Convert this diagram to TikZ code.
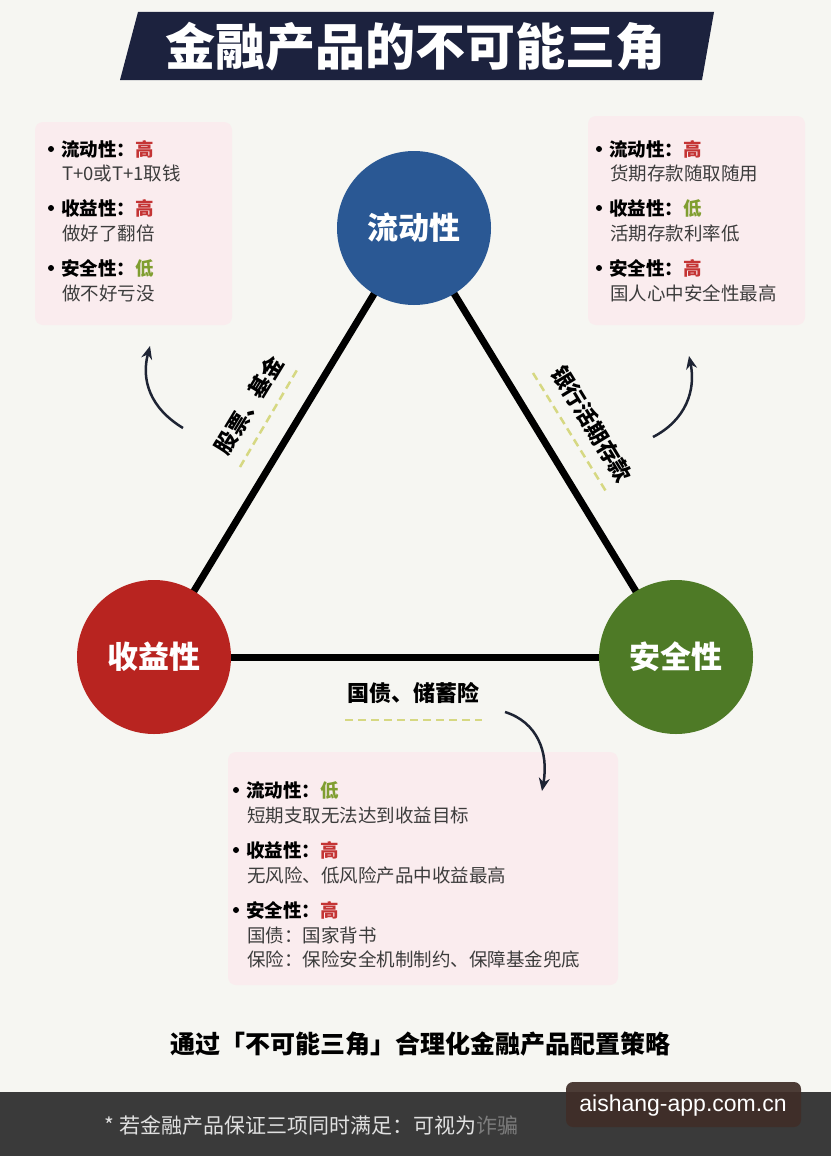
\documentclass[tikz,border=0pt]{standalone}
\usepackage{fontspec}
\setmainfont{Noto Sans CJK SC}
\newfontfamily\latinsans{Liberation Sans}
\usetikzlibrary{arrows.meta}
\definecolor{bg}{RGB}{246,246,242}
\definecolor{navy}{RGB}{28,34,62}
\definecolor{cblue}{RGB}{42,88,148}
\definecolor{cred}{RGB}{184,36,32}
\definecolor{cgreen}{RGB}{78,122,38}
\definecolor{boxpink}{RGB}{250,236,238}
\definecolor{hi}{RGB}{196,52,52}
\definecolor{lo}{RGB}{128,158,48}
\definecolor{sub}{RGB}{60,60,60}
\definecolor{dashc}{RGB}{214,216,130}
\definecolor{arr}{RGB}{30,36,52}
\definecolor{band}{RGB}{58,58,58}
\definecolor{wm}{RGB}{64,46,40}
\tikzset{
  circ/.style={circle, minimum size=154pt, inner sep=0pt, text=white, font=\bfseries\fontsize{31}{31}\selectfont},
  edge/.style={line width=7pt, black},
  head/.style={anchor=west, inner sep=0pt, font=\bfseries\fontsize{18.5}{18.5}\selectfont},
  subl/.style={anchor=west, inner sep=0pt, text=sub, font=\fontsize{18.5}{18.5}\selectfont},
  bul/.style={circle, fill=black, inner sep=0pt, minimum size=6pt},
  elabel/.style={inner sep=0pt, font=\bfseries\fontsize{22}{22}\selectfont},
  dashl/.style={line width=2.5pt, dashc, dash pattern=on 8pt off 5pt},
  carrow/.style={line width=2.5pt, arr, -{Stealth[length=13pt,width=11pt]}},
  pinkbox/.style={fill=boxpink, rounded corners=8pt, draw=none}
}
\begin{document}
\begin{tikzpicture}[x=1pt,y=-1pt]
\fill[bg] (0,0) rectangle (831,1156);
\useasboundingbox (0,0) rectangle (831,1156);
% title
\fill[navy] (138,12) -- (714,12) -- (702,80) -- (120,80) -- cycle;
\node[text=white, font=\bfseries\fontsize{50}{50}\selectfont] (title) at (415,47) {金融产品的不可能三角};
% info boxes
\fill[pinkbox] (35,122) rectangle (232,325);
\fill[pinkbox] (588,116) rectangle (805,325);
\fill[pinkbox] (228,752) rectangle (618,985);
% triangle
\coordinate (T) at (414,228);
\coordinate (L) at (154,657);
\coordinate (R) at (676,657);
\draw[edge] (T) -- (L);
\draw[edge] (T) -- (R);
\draw[edge] (L) -- (R);
\node[circ, fill=cblue] (liu) at (T) {流动性};
\node[circ, fill=cred] (shou) at (L) {收益性};
\node[circ, fill=cgreen] (an) at (R) {安全性};
% edge labels
\node[elabel, rotate=58.7] (lab1) at (249,405) {股票、基金};
\coordinate (d1a) at (240,467);
\coordinate (d1b) at (297,370);
\draw[dashl] (d1a) -- (d1b);
\node[elabel, rotate=-58.6] (lab2) at (592,424) {银行活期存款};
\coordinate (d2a) at (533,373);
\coordinate (d2b) at (607,493);
\draw[dashl] (d2a) -- (d2b);
\node[elabel] (lab3) at (413,693) {国债、储蓄险};
\coordinate (d3a) at (345,720);
\coordinate (d3b) at (482,720);
\draw[dashl] (d3a) -- (d3b);
% curved arrows
\coordinate (a1s) at (183,428); \coordinate (a1e) at (150,346);
\draw[carrow] (a1s) .. controls (150,408) and (141,380) .. (a1e);
\coordinate (a2s) at (653,437); \coordinate (a2e) at (689,356);
\draw[carrow] (a2s) .. controls (686,420) and (696,390) .. (a2e);
\coordinate (a3s) at (505,712); \coordinate (a3e) at (542,791);
\draw[carrow] (a3s) .. controls (537,722) and (549,752) .. (a3e);
% left box
\node[bul] (lb1) at (51,149) {};
\node[head] (lh1) at (61,149) {流动性：\textcolor{hi}{高}};
\node[subl] (ls1) at (62,173) {T+0或T+1取钱};
\node[bul] (lb2) at (51,208) {};
\node[head] (lh2) at (61,208) {收益性：\textcolor{hi}{高}};
\node[subl] (ls2) at (62,233) {做好了翻倍};
\node[bul] (lb3) at (51,268) {};
\node[head] (lh3) at (61,268) {安全性：\textcolor{lo}{低}};
\node[subl] (ls3) at (62,293) {做不好亏没};
% right box
\node[bul] (rb1) at (599,149) {};
\node[head] (rh1) at (609,149) {流动性：\textcolor{hi}{高}};
\node[subl] (rs1) at (610,173) {货期存款随取随用};
\node[bul] (rb2) at (599,208) {};
\node[head] (rh2) at (609,208) {收益性：\textcolor{lo}{低}};
\node[subl] (rs2) at (610,233) {活期存款利率低};
\node[bul] (rb3) at (599,268) {};
\node[head] (rh3) at (609,268) {安全性：\textcolor{hi}{高}};
\node[subl] (rs3) at (610,293) {国人心中安全性最高};
% bottom box
\node[bul] (bb1) at (236,790) {};
\node[head] (bh1) at (246,790) {流动性：\textcolor{lo}{低}};
\node[subl] (bs1) at (247,815) {短期支取无法达到收益目标};
\node[bul] (bb2) at (236,850) {};
\node[head] (bh2) at (246,850) {收益性：\textcolor{hi}{高}};
\node[subl] (bs2) at (247,875) {无风险、低风险产品中收益最高};
\node[bul] (bb3) at (236,910) {};
\node[head] (bh3) at (246,910) {安全性：\textcolor{hi}{高}};
\node[subl] (bs3) at (247,935) {国债：国家背书};
\node[subl] (bs4) at (247,959) {保险：保险安全机制制约、保障基金兜底};
% strategy line
\node[font=\bfseries\fontsize{25}{25}\selectfont] (strat) at (420,1044) {通过「不可能三角」合理化金融产品配置策略};
% footer band
\fill[band] (0,1092) rectangle (831,1156);
\node[anchor=west, text=white!88!black, font=\fontsize{21}{21}\selectfont] (foot) at (101,1125) {* 若金融产品保证三项同时满足：可视为\textcolor{white!88!black!40!band}{诈骗}};
% watermark
\fill[wm, opacity=0.93, rounded corners=7pt] (566,1082) rectangle (801,1127);
\node[text=white, font=\latinsans\fontsize{23}{23}\selectfont] (wmt) at (683,1106) {aishang-app.com.cn};
\end{tikzpicture}
\end{document}
